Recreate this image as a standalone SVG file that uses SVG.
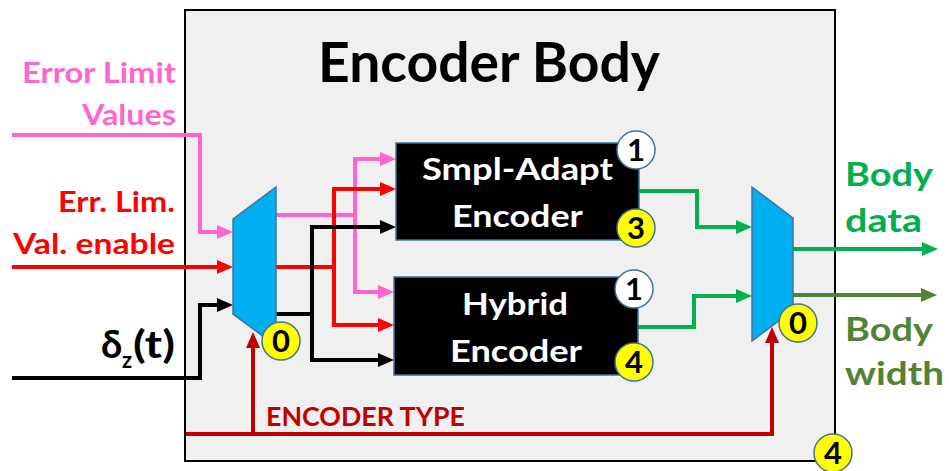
<svg xmlns="http://www.w3.org/2000/svg" width="949" height="471" viewBox="0 0 949 471">
<style>
text{font-family:Lato,"Open Sans","Liberation Sans",sans-serif;font-weight:bold}
.ln{fill:none;stroke-width:4;stroke-linejoin:miter}
.pk{stroke:#FF66CC}.rd{stroke:#FF0000}.bk{stroke:#000}.dr{stroke:#C00000}.gr{stroke:#00B050}.dg{stroke:#548235}
.enc{fill:#000;stroke:#41719C;stroke-width:1.5}
.mux{fill:#00B0F0;stroke:#41719C;stroke-width:1.5}
.cy{fill:#FFFF00;stroke:#41719C;stroke-width:1.5}
.cw{fill:#FFFFFF;stroke:#41719C;stroke-width:1.5}
.num{font-size:31px;fill:#000;text-anchor:middle}
.et{font-size:31px;fill:#fff}
</style>
<defs>
<marker id="aPk" viewBox="0 0 16 14" refX="10" refY="7" markerWidth="16" markerHeight="14" markerUnits="userSpaceOnUse" orient="auto"><path d="M0,0 L16,7 L0,14 z" fill="#FF66CC"/></marker>
<marker id="aRd" viewBox="0 0 16 14" refX="10" refY="7" markerWidth="16" markerHeight="14" markerUnits="userSpaceOnUse" orient="auto"><path d="M0,0 L16,7 L0,14 z" fill="#FF0000"/></marker>
<marker id="aBk" viewBox="0 0 16 14" refX="10" refY="7" markerWidth="16" markerHeight="14" markerUnits="userSpaceOnUse" orient="auto"><path d="M0,0 L16,7 L0,14 z" fill="#000"/></marker>
<marker id="aDr" viewBox="0 0 16 14" refX="10" refY="7" markerWidth="16" markerHeight="14" markerUnits="userSpaceOnUse" orient="auto"><path d="M0,0 L16,7 L0,14 z" fill="#C00000"/></marker>
<marker id="aGr" viewBox="0 0 16 14" refX="10" refY="7" markerWidth="16" markerHeight="14" markerUnits="userSpaceOnUse" orient="auto"><path d="M0,0 L16,7 L0,14 z" fill="#00B050"/></marker>
<marker id="aDg" viewBox="0 0 16 14" refX="10" refY="7" markerWidth="16" markerHeight="14" markerUnits="userSpaceOnUse" orient="auto"><path d="M0,0 L16,7 L0,14 z" fill="#548235"/></marker>
</defs>
<rect width="949" height="471" fill="#fff"/>
<g id="encoder-body">
<rect x="185" y="10" width="650" height="451" fill="#F0F0F0" stroke="#000" stroke-width="2"/>
<text x="318" y="82" font-size="56" fill="#000" textLength="342" lengthAdjust="spacingAndGlyphs">Encoder Body</text>
</g>
<g id="connectors">
<path class="ln pk" d="M12,135 H200 V232 H227" marker-end="url(#aPk)"/>
<path class="ln pk" d="M276,215 H355"/>
<path class="ln pk" d="M355,215 V159 H390" marker-end="url(#aPk)"/>
<path class="ln pk" d="M355,213 V292 H388" marker-end="url(#aPk)"/>
<path class="ln rd" d="M12,267 H227" marker-end="url(#aRd)"/>
<path class="ln rd" d="M276,267 H334"/>
<path class="ln rd" d="M334,269 V189 H390" marker-end="url(#aRd)"/>
<path class="ln rd" d="M334,265 V325 H388" marker-end="url(#aRd)"/>
<path class="ln bk" d="M12,378 H200 V305 H227" marker-end="url(#aBk)"/>
<path class="ln bk" d="M276,314 H312"/>
<path class="ln bk" d="M312,316 V227 H390" marker-end="url(#aBk)"/>
<path class="ln bk" d="M312,312 V360 H388" marker-end="url(#aBk)"/>
<path class="ln dr" d="M186,434 H772 V333" marker-end="url(#aDr)"/>
<path class="ln dr" d="M253,436 V338" marker-end="url(#aDr)"/>
<path class="ln gr" d="M639,191 H697 V227 H746" marker-end="url(#aGr)"/>
<path class="ln gr" d="M638,327 H694 V296 H746" marker-end="url(#aGr)"/>
<path class="ln gr" d="M793,249 H932" marker-end="url(#aGr)"/>
<path class="ln dg" d="M793,295 H931" marker-end="url(#aDg)"/>
<text x="266" y="426" font-size="26" fill="#C00000" textLength="199" lengthAdjust="spacingAndGlyphs">ENCODER TYPE</text>
</g>
<g id="input-labels">
<text x="22" y="83" font-size="28" fill="#FF66CC" textLength="154" lengthAdjust="spacingAndGlyphs">Error Limit</text>
<text x="82" y="125" font-size="28" fill="#FF66CC" textLength="94" lengthAdjust="spacingAndGlyphs">Values</text>
<text x="58" y="212" font-size="28" fill="#FF0000" textLength="117" lengthAdjust="spacingAndGlyphs">Err. Lim.</text>
<text x="13" y="254" font-size="28" fill="#FF0000" textLength="162" lengthAdjust="spacingAndGlyphs">Val. enable</text>
<text y="358" font-size="38" fill="#000"><tspan x="101">δ</tspan><tspan x="122" y="368" font-size="22">z</tspan><tspan x="133" y="358" textLength="42" lengthAdjust="spacingAndGlyphs">(t)</tspan></text>
</g>
<g id="output-labels">
<text x="845" y="186" font-size="32" fill="#00B050" textLength="88" lengthAdjust="spacingAndGlyphs">Body</text>
<text x="845" y="232" font-size="32" fill="#00B050" textLength="77" lengthAdjust="spacingAndGlyphs">data</text>
<text x="845" y="341" font-size="32" fill="#548235" textLength="88" lengthAdjust="spacingAndGlyphs">Body</text>
<text x="845" y="385" font-size="32" fill="#548235" textLength="99" lengthAdjust="spacingAndGlyphs">width</text>
</g>
<g id="mux-in">
<polygon class="mux" points="233,219 276,187 276,346 233,314"/>
<circle class="cy" cx="281" cy="341" r="19"/>
<text class="num" x="281" y="352">0</text>
</g>
<g id="smpl-adapt-encoder">
<rect class="enc" x="396" y="143" width="243" height="97"/>
<text class="et" x="422" y="180" textLength="191" lengthAdjust="spacingAndGlyphs">Smpl-Adapt</text>
<text class="et" x="452" y="227" textLength="131" lengthAdjust="spacingAndGlyphs">Encoder</text>
<circle class="cw" cx="636" cy="150" r="19"/>
<text class="num" x="636" y="161">1</text>
<circle class="cy" cx="636" cy="228" r="19"/>
<text class="num" x="636" y="239">3</text>
</g>
<g id="hybrid-encoder">
<rect class="enc" x="394" y="277" width="244" height="98"/>
<text class="et" x="462" y="315" textLength="106" lengthAdjust="spacingAndGlyphs">Hybrid</text>
<text class="et" x="450" y="362" textLength="132" lengthAdjust="spacingAndGlyphs">Encoder</text>
<circle class="cw" cx="634" cy="289" r="19"/>
<text class="num" x="634" y="300">1</text>
<circle class="cy" cx="634" cy="362" r="19"/>
<text class="num" x="634" y="373">4</text>
</g>
<g id="mux-out">
<polygon class="mux" points="752,187 793,218 793,310 752,341"/>
<circle class="cy" cx="798" cy="323" r="19"/>
<text class="num" x="798" y="334">0</text>
</g>
<g id="body-badge">
<circle class="cy" cx="833" cy="453" r="19"/>
<text class="num" x="833" y="464">4</text>
</g>
</svg>
